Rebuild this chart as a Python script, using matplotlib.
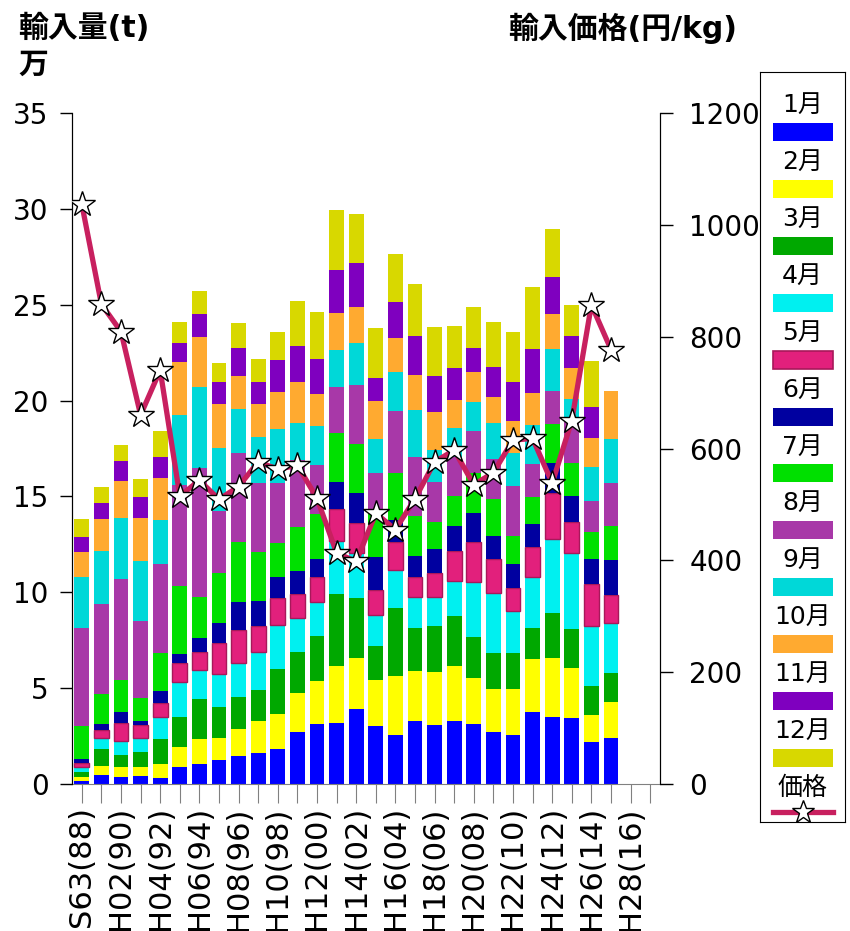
import numpy as np
import matplotlib
matplotlib.use('Agg')
import matplotlib.pyplot as plt
from matplotlib.patches import Rectangle

plt.rcParams['font.family'] = ['DejaVu Sans', 'Noto Sans CJK JP']

# 1988 (S63) .. 2015 (H27), monthly imports in 万t
years = list(range(1988, 2016))
xlabels = ['S63(88)', 'H02(90)', 'H04(92)', 'H06(94)', 'H08(96)', 'H10(98)', 'H12(00)',
           'H14(02)', 'H16(04)', 'H18(06)', 'H20(08)', 'H22(10)', 'H24(12)', 'H26(14)', 'H28(16)']

jan = [0.16, 0.47, 0.38, 0.40, 0.33, 0.88, 1.04, 1.25, 1.46, 1.64, 1.81, 2.70, 3.13, 3.17,
       3.90, 3.03, 2.56, 3.29, 3.08, 3.30, 3.13, 2.73, 2.56, 3.77, 3.48, 3.46, 2.21, 2.38]
feb = [0.20, 0.49, 0.49, 0.50, 0.71, 1.04, 1.29, 1.16, 1.39, 1.66, 1.82, 2.07, 2.24, 2.99,
       2.66, 2.40, 3.07, 2.62, 2.75, 2.86, 2.38, 2.23, 2.40, 2.75, 3.11, 2.57, 1.39, 1.88]
mar = [0.28, 0.85, 0.64, 0.76, 1.31, 1.56, 2.11, 1.61, 1.71, 1.60, 2.37, 2.13, 2.35, 3.75,
       3.13, 1.77, 3.54, 2.25, 2.43, 2.62, 2.14, 1.89, 1.89, 1.60, 2.31, 2.06, 1.53, 1.55]
apr = [0.26, 0.57, 0.73, 0.76, 1.16, 1.85, 1.49, 1.70, 1.74, 2.00, 2.30, 1.78, 1.79, 2.79,
       2.34, 1.62, 1.98, 1.58, 1.48, 1.81, 2.91, 3.13, 2.19, 2.70, 3.87, 3.98, 3.13, 2.57]
may = [0.18, 0.42, 0.93, 0.66, 0.70, 0.97, 0.95, 1.66, 1.73, 1.36, 1.39, 1.23, 1.27, 1.63,
       1.57, 1.30, 1.49, 1.08, 1.25, 1.57, 2.08, 1.74, 1.20, 1.56, 2.40, 1.62, 2.16, 1.48]
jun = [0.21, 0.34, 0.57, 0.22, 0.66, 0.50, 0.76, 1.00, 1.48, 1.30, 1.13, 1.22, 0.96, 1.44,
       1.57, 1.74, 1.13, 1.09, 1.27, 1.30, 1.52, 1.24, 1.24, 1.19, 1.56, 1.34, 1.32, 1.83]
jul = [1.74, 1.56, 1.69, 1.20, 1.98, 3.55, 2.09, 2.61, 3.12, 2.56, 1.77, 2.26, 2.35, 2.53,
       2.57, 2.34, 2.44, 2.09, 1.43, 1.57, 2.05, 1.91, 1.48, 1.39, 2.05, 1.70, 1.43, 1.77]
aug = [5.13, 4.68, 5.27, 3.99, 4.60, 5.25, 6.74, 3.26, 4.64, 3.58, 3.10, 3.51, 2.54, 2.43,
       3.08, 2.04, 3.22, 3.08, 2.08, 2.05, 2.21, 2.07, 2.59, 1.74, 1.74, 2.21, 1.61, 2.23]
sep = [2.66, 2.78, 3.15, 3.13, 2.34, 3.65, 4.26, 3.26, 2.27, 2.42, 2.83, 1.92, 2.05, 1.91,
       2.17, 1.74, 2.08, 2.43, 1.66, 1.48, 1.53, 1.88, 1.70, 2.03, 2.16, 1.15, 1.74, 2.31]
oct_ = [1.26, 1.68, 1.94, 2.23, 2.18, 2.76, 2.57, 2.31, 1.76, 1.69, 1.95, 2.17, 1.67, 1.92,
        1.91, 2.02, 1.74, 1.83, 1.96, 1.47, 1.53, 1.39, 1.71, 1.65, 1.82, 1.60, 1.51, 2.50]
nov = [0.82, 0.84, 1.04, 1.13, 1.11, 1.01, 1.22, 1.13, 1.43, 1.18, 1.65, 1.88, 1.81, 2.26,
       2.27, 1.20, 1.88, 2.05, 1.90, 1.69, 1.25, 1.56, 2.00, 2.32, 1.97, 1.70, 1.62, None]
dec = [0.90, 0.83, 0.84, 0.95, 1.34, 1.08, 1.20, 0.99, 1.33, 1.20, 1.45, 2.30, 2.45, 3.13,
       2.57, 2.57, 2.50, 2.68, 2.57, 2.18, 2.14, 2.32, 2.61, 3.21, 2.49, 1.60, 2.42, None]

# import price (円/kg)
price = [1037, 858, 809, 660, 740, 515, 543, 509, 532, 576, 563, 570, 511, 413,
         398, 484, 455, 510, 576, 597, 535, 557, 615, 618, 538, 650, 857, 777]

months = ['1月', '2月', '3月', '4月', '5月', '6月', '7月', '8月', '9月', '10月', '11月', '12月']
colors = ['#0000ff', '#ffff00', '#00a800', '#00f0f0', '#e2207c', '#0000a0',
          '#00e000', '#a838a8', '#00d8d8', '#ffaa30', '#7f00bf', '#d8d800']
line_color = '#c8205f'
may_edge = '#a8185a'
monthly = [jan, feb, mar, apr, may, jun, jul, aug, sep, oct_, nov, dec]

fig = plt.figure(figsize=(8.5, 9.31), dpi=100)
ax = fig.add_axes([72/850, 147/931, 588/850, 671/931])

x = np.arange(len(years))
bottom = np.zeros(len(years))
for vals, c, m in zip(monthly, colors, months):
    v = np.array([np.nan if a is None else a for a in vals])
    ok = ~np.isnan(v)
    if m == '5月':
        ax.bar(x[ok], v[ok], 0.76, bottom=bottom[ok], color=c, edgecolor=may_edge, linewidth=1.0, zorder=2)
    else:
        ax.bar(x[ok], v[ok], 0.76, bottom=bottom[ok], color=c, linewidth=0, zorder=2)
    bottom = bottom + np.nan_to_num(v)

ax.set_xlim(-0.5, 29.5)
ax.set_ylim(0, 35)
ax.set_yticks(range(0, 36, 5))
ticks = np.arange(30)
ax.set_xticks(ticks)
ax.set_xticklabels([xlabels[i // 2] if i % 2 == 0 else '' for i in ticks], rotation=90)
ax.tick_params(axis='x', length=14, color='#808080', labelsize=22, pad=2)
ax.tick_params(axis='y', length=9, width=1, labelsize=20, pad=8)
ax.spines['top'].set_visible(False)
ax.spines['bottom'].set_color('#808080')

ax2 = ax.twinx()
ax2.plot(x, price, color=line_color, lw=3.8, marker='*', ms=19,
         mfc='white', mec='black', mew=1, zorder=3)
ax2.set_ylim(0, 1200)
ax2.set_yticks(range(0, 1201, 200))
ax2.tick_params(axis='y', length=9, width=1, labelsize=20, pad=12)
ax2.spines['top'].set_visible(False)
ax2.spines['bottom'].set_visible(False)

fig.text(18/850, 1 - 28/931, '輸入量(t)', fontsize=21.5, fontweight='bold', va='center')
fig.text(18/850, 1 - 65/931, '万', fontsize=21.5, fontweight='bold', va='center')
fig.text(508/850, 1 - 28/931, '輸入価格(円/kg)', fontsize=21.5, fontweight='bold', va='center')

# legend: label above each swatch
lax = fig.add_axes([760/850, 1 - 822/931, 85/850, 750/931])
lax.set_xlim(0, 85)
lax.set_ylim(750, 0)
lax.set_xticks([])
lax.set_yticks([])
for k, (m, c) in enumerate(zip(months, colors)):
    y0 = 33 + 56.9 * k
    lax.text(42.5, y0, m, ha='center', va='center', fontsize=18)
    if m == '5月':
        lax.add_patch(Rectangle((13, y0 + 18), 60, 18, facecolor=c, edgecolor=may_edge, lw=1.2))
    else:
        lax.add_patch(Rectangle((13, y0 + 18), 60, 18, facecolor=c, lw=0))
y0 = 33 + 56.9 * 12
lax.text(42.5, y0, '価格', ha='center', va='center', fontsize=18)
lax.plot([13, 73], [y0 + 24, y0 + 24], color=line_color, lw=3.8)
lax.plot([43], [y0 + 24], marker='*', ms=17, mfc='white', mec='black', mew=1, color=line_color)

fig.savefig('out.png', dpi=100)
